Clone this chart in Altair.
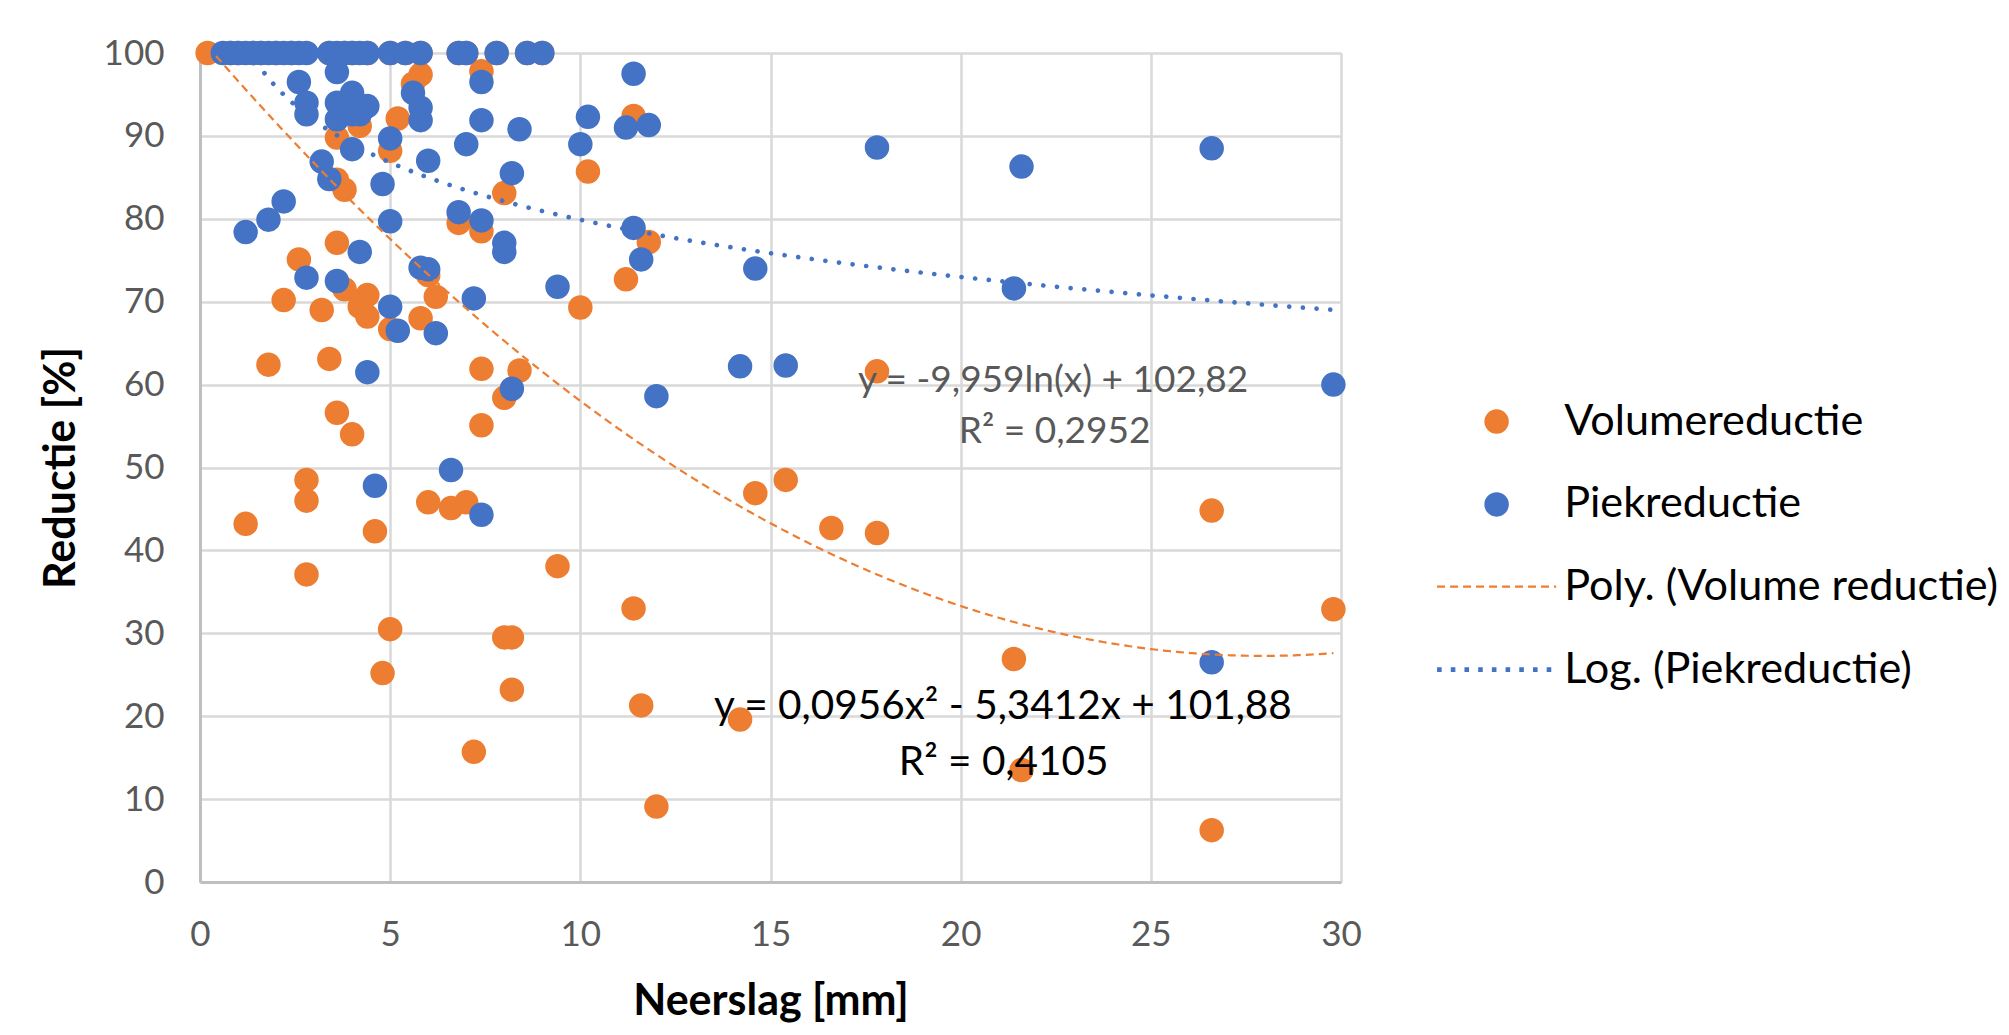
import altair as alt
import pandas as pd

ORANGE = "#ED7D31"
BLUE = "#4472C4"

# Volumereductie (orange)
vol_x = [0.2, 0.8, 1.0, 1.4, 1.6, 2.0, 2.4, 3.4, 3.8, 4.0, 4.4, 5.0, 5.4, 5.8, 6.8, 7.0, 7.8, 8.6, 9.0,
         7.4, 5.8, 5.6, 11.4, 5.2, 4.2, 3.6, 5.0, 10.2, 3.6, 3.8, 8.0, 6.8, 7.4, 11.8, 3.6, 2.6, 6.0,
         11.2, 3.8, 4.4, 2.2, 6.2, 4.2, 3.2, 10.0, 4.4, 5.8, 5.0, 1.8, 3.4, 7.4, 8.4, 17.8, 8.0, 3.6,
         7.4, 4.0, 2.8, 15.4, 14.6, 2.8, 6.0, 7.0, 6.6, 26.6, 1.2, 16.6, 4.6, 17.8, 9.4, 2.8, 11.4,
         29.8, 5.0, 8.0, 8.2, 21.4, 4.8, 8.2, 11.6, 14.2, 7.2, 21.6, 12.0, 26.6]
vol_y = [100, 100, 100, 100, 100, 100, 100, 100, 100, 100, 100, 100, 100, 100, 100, 100, 100, 100, 100,
         97.8, 97.4, 96.3, 92.4, 92.1, 91.2, 89.8, 88.2, 85.7, 84.7, 83.5, 83.1, 79.5, 78.5, 77.2, 77.1, 75.1, 73.2,
         72.7, 71.5, 70.8, 70.2, 70.6, 69.4, 69.0, 69.3, 68.2, 68.0, 66.7, 62.4, 63.1, 61.9, 61.7, 61.6, 58.4, 56.6,
         55.1, 54.0, 48.5, 48.5, 46.9, 46.0, 45.8, 45.8, 45.1, 44.8, 43.2, 42.7, 42.3, 42.1, 38.1, 37.1, 33.0,
         32.9, 30.5, 29.5, 29.5, 26.9, 25.2, 23.2, 21.3, 19.6, 15.7, 13.5, 9.1, 6.25]

# Piekreductie (blue)
piek_x = [0.6, 0.8, 1.0, 1.2, 1.4, 1.6, 1.8, 2.0, 2.2, 2.4, 2.6, 2.8, 3.4, 3.6, 3.8, 4.0, 4.2, 4.4,
          5.0, 5.4, 5.8, 6.8, 7.0, 7.8, 8.6, 9.0,
          11.4, 3.6, 2.6, 7.4, 5.6, 5.8, 5.8, 2.8, 2.8, 3.6, 4.0, 4.4, 4.2, 3.6, 4.0, 3.8, 5.0, 7.4,
          8.4, 10.2, 11.2, 11.8, 7.0, 10.0, 4.0, 6.0, 3.2, 3.4, 4.8, 8.2, 17.8, 21.6, 26.6, 2.2, 1.8,
          1.2, 5.0, 6.8, 7.4, 11.4, 8.0, 8.0, 4.2, 11.6, 14.6, 5.8, 6.0, 2.8, 3.6, 9.4, 21.4, 7.2,
          5.0, 5.2, 6.2, 4.4, 14.2, 15.4, 8.2, 12.0, 29.8, 6.6, 4.6, 7.4, 26.6]
piek_y = [100, 100, 100, 100, 100, 100, 100, 100, 100, 100, 100, 100, 100, 100, 100, 100, 100, 100,
          100, 100, 100, 100, 100, 100, 100, 100,
          97.5, 97.7, 96.5, 96.5, 95.2, 93.4, 91.9, 94.0, 92.6, 94.0, 95.2, 93.6, 92.6, 92.0, 92.6, 93.0, 89.7, 91.9,
          90.8, 92.3, 91.0, 91.3, 89.0, 89.0, 88.4, 87.0, 86.9, 84.8, 84.2, 85.5, 88.6, 86.3, 88.5, 82.1, 79.9,
          78.4, 79.7, 80.8, 79.8, 78.9, 77.1, 76.0, 76.0, 75.1, 74.0, 74.1, 73.9, 72.9, 72.5, 71.8, 71.6, 70.4,
          69.4, 66.5, 66.2, 61.5, 62.2, 62.3, 59.5, 58.6, 60.0, 49.7, 47.8, 44.3, 26.5]

series_names = ["Volumereductie", "Piekreductie"]
poly_name = "Poly. (Volume reductie)"
log_name = "Log. (Piekreductie)"

# Trendline coefficients as printed on the chart
POLY_A, POLY_B, POLY_C = 0.0956, -5.3412, 101.88
LOG_A, LOG_B = -9.959, 102.82

log_label = ["y = -9,959ln(x) + 102,82", "R² = 0,2952"]
log_label_x = [22.43, 22.47]
log_label_y = [60.45, 54.25]
poly_label = ["y = 0,0956x² - 5,3412x + 101,88", "R² = 0,4105"]
poly_label_x = [21.11, 21.13]
poly_label_y = [21.05, 14.3]

FONT = "Lato"

pts = pd.concat([
    pd.DataFrame({"x": vol_x, "y": vol_y, "series": series_names[0]}),
    pd.DataFrame({"x": piek_x, "y": piek_y, "series": series_names[1]}),
], ignore_index=True)

xscale = alt.Scale(domain=[0, 30], nice=False, zero=False)
yscale = alt.Scale(domain=[0, 100], nice=False, zero=False)

common_axis = dict(grid=True, gridColor="#d9d9d9", gridWidth=2.5, domainColor="#bfbfbf",
                   domainWidth=3, ticks=False, tickSize=0, labelFont=FONT, labelFontSize=35,
                   labelColor="#595959", titleFont=FONT, titleFontSize=43, titleFontWeight="bold",
                   titleColor="#000000", labelFlush=False, labelOverlap=False)

xaxis = alt.Axis(values=list(range(0, 31, 5)), labelPadding=35, titlePadding=28, **common_axis)
yaxis = alt.Axis(values=list(range(0, 101, 10)), labelPadding=36, titlePadding=20, **common_axis)

X = lambda: alt.X("x:Q", scale=xscale, axis=xaxis, title="Neerslag [mm]")
Y = lambda: alt.Y("y:Q", scale=yscale, axis=yaxis, title="Reductie [%]")

LEG_X = 1275
LEG_FS = 43.2
LEG_OFF = 46

pt_legend = alt.Legend(title=None, orient="none", legendX=LEG_X, legendY=347, padding=0,
                       symbolType="circle", symbolSize=600, labelFont=FONT, labelFontSize=LEG_FS,
                       labelColor="#000000", labelOffset=LEG_OFF, rowPadding=38.8, labelLimit=0)

points = alt.Chart(pts).mark_circle(size=600, opacity=1).encode(
    x=X(), y=Y(),
    color=alt.Color("series:N", scale=alt.Scale(domain=series_names, range=[ORANGE, BLUE]),
                    legend=pt_legend),
)

poly_legend = alt.Legend(title=None, orient="none", legendX=LEG_X, legendY=512, padding=0,
                         symbolType="M-5,0H5", symbolSize=567, symbolDash=[8, 5],
                         symbolStrokeWidth=2.2, labelFont=FONT, labelFontSize=LEG_FS,
                         labelColor="#000000", labelOffset=LEG_OFF, labelLimit=0)
log_legend = alt.Legend(title=None, orient="none", legendX=LEG_X, legendY=595, padding=0,
                        symbolType="M-5,0H5", symbolSize=567, symbolDash=[4.6, 9.1],
                        symbolStrokeWidth=4.6, labelFont=FONT, labelFontSize=LEG_FS,
                        labelColor="#000000", labelOffset=LEG_OFF, labelLimit=0)

poly_line = alt.Chart(alt.sequence(0.2, 29.8001, 0.05, as_="x")).transform_calculate(
    y=f"{POLY_A}*datum.x*datum.x + ({POLY_B})*datum.x + {POLY_C}",
    trend=f"'{poly_name}'",
).mark_line(clip=True, strokeWidth=2.2, strokeDash=[8, 5]).encode(
    x=X(), y=Y(),
    color=alt.Color("trend:N", scale=alt.Scale(domain=[poly_name], range=[ORANGE]), legend=poly_legend),
)

log_line = alt.Chart(alt.sequence(0.6, 29.8001, 0.05, as_="x")).transform_calculate(
    y=f"({LOG_A})*log(datum.x) + {LOG_B}",
    trend=f"'{log_name}'",
).mark_line(clip=True, strokeWidth=4.7, strokeDash=[0.01, 13.7], strokeCap="round").encode(
    x=X(), y=Y(),
    color=alt.Color("trend:N", scale=alt.Scale(domain=[log_name], range=[BLUE]), legend=log_legend),
)

log_df = pd.DataFrame({"x": log_label_x, "y": log_label_y, "t": log_label})
poly_df = pd.DataFrame({"x": poly_label_x, "y": poly_label_y, "t": poly_label})

log_text = alt.Chart(log_df).mark_text(font=FONT, fontSize=37, color="#595959",
                                        align="center", baseline="middle").encode(
    x=X(), y=Y(), text="t:N")
poly_text = alt.Chart(poly_df).mark_text(font=FONT, fontSize=40.5, color="#000000",
                                          align="center", baseline="middle").encode(
    x=X(), y=Y(), text="t:N")

chart = alt.layer(points, poly_line, log_line, log_text, poly_text).resolve_scale(
    color="independent"
).properties(
    width=1141, height=829,
    padding={"left": 192, "top": 45, "right": 660, "bottom": 145},
    autosize=alt.AutoSizeParams(type="none"),
).configure_view(stroke=None).configure(font=FONT)

chart.save("out.html", embed_options={"renderer": "svg", "actions": False})
